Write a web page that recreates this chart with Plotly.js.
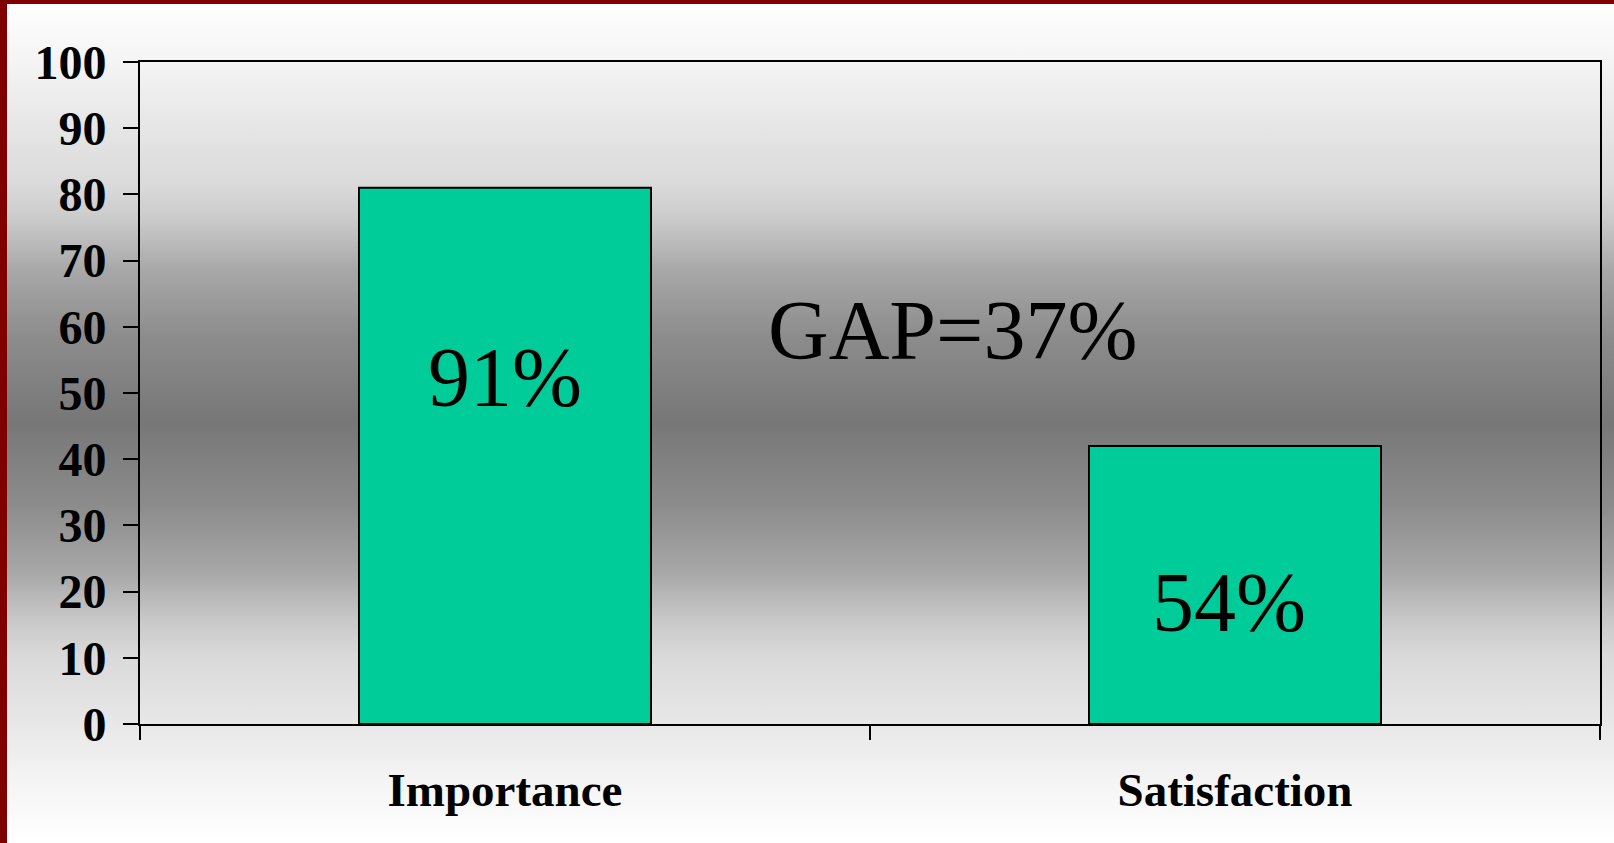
<!DOCTYPE html>
<html>
<head>
<meta charset="utf-8">
<script src="https://cdn.plot.ly/plotly-3.0.1.min.js"></script>
<style>
  html, body { margin: 0; padding: 0; }
  #wrap {
    position: relative; width: 1614px; height: 843px; overflow: hidden;
    background: linear-gradient(to bottom,
      #ffffff 0%, #f4f4f4 7.4%, #e8e8e8 14%, #d9d9d9 22.3%, #c8c8c8 26.5%,
      #a8a8a8 32%, #8c8c8c 40%, #777777 50%, #8c8c8c 60%, #a8a8a8 68%,
      #c8c8c8 73.5%, #d9d9d9 77.7%, #e8e8e8 86%, #f4f4f4 92.6%, #ffffff 100%);
  }
  #chart { position: absolute; left: 0; top: 0; width: 1614px; height: 843px; }
  #bTop { position: absolute; left: 0; top: 0; width: 1614px; height: 4px; background: #800000; z-index: 5; pointer-events: none; }
  #bLeft { position: absolute; left: 0; top: 0; width: 7px; height: 843px; background: #800000; z-index: 5; pointer-events: none; }
</style>
</head>
<body>
<div id="wrap">
  <div id="chart"></div>
  <div id="bTop"></div>
  <div id="bLeft"></div>
</div>
<script>
// Data
var categories = ['Importance', 'Satisfaction'];
var values = [81, 42];
var barLabels = ['91%', '54%'];
var gapLabel = 'GAP=37%';
var yTickValues = [0, 10, 20, 30, 40, 50, 60, 70, 80, 90, 100];

var serif = 'Liberation Serif, Times New Roman, serif';

var trace = {
  type: 'bar',
  x: categories,
  y: values,
  marker: { color: '#00CC99', line: { color: '#000000', width: 2 } },
  hoverinfo: 'none'
};

var layout = {
  width: 1614,
  height: 843,
  margin: { l: 140, r: 14, t: 62, b: 119, pad: 0 },
  paper_bgcolor: 'rgba(0,0,0,0)',
  plot_bgcolor: 'rgba(0,0,0,0)',
  showlegend: false,
  bargap: 0.6,
  xaxis: {
    type: 'category',
    showline: true, linecolor: '#000', linewidth: 2, mirror: true,
    ticks: 'outside', tickson: 'boundaries', ticklen: 14, tickwidth: 2, tickcolor: '#000',
    showgrid: false, zeroline: false,
    tickfont: { family: serif, size: 47, color: '#000', weight: 'bold' },
    ticklabelstandoff: 24
  },
  yaxis: {
    range: [0, 100],
    tickvals: yTickValues,
    showline: true, linecolor: '#000', linewidth: 2, mirror: true,
    ticks: 'outside', ticklen: 15, tickwidth: 2, tickcolor: '#000',
    showgrid: false, zeroline: false,
    tickfont: { family: serif, size: 48, color: '#000', weight: 'bold' },
    ticklabelstandoff: 7
  },
  annotations: [
    { x: categories[0], y: 52.3, xref: 'x', yref: 'y', text: barLabels[0], showarrow: false,
      xanchor: 'center', yanchor: 'middle', font: { family: serif, size: 84, color: '#000' } },
    { x: categories[1], y: 18.4, xref: 'x', yref: 'y', text: barLabels[1], showarrow: false,
      xshift: -6, xanchor: 'center', yanchor: 'middle', font: { family: serif, size: 84, color: '#000' } },
    { x: 0.5565, y: 59.5, xref: 'paper', yref: 'y', text: gapLabel, showarrow: false,
      xanchor: 'center', yanchor: 'middle', font: { family: serif, size: 84, color: '#000' } }
  ]
};

Plotly.newPlot('chart', [trace], layout, { staticPlot: true, displayModeBar: false });
</script>
</body>
</html>
